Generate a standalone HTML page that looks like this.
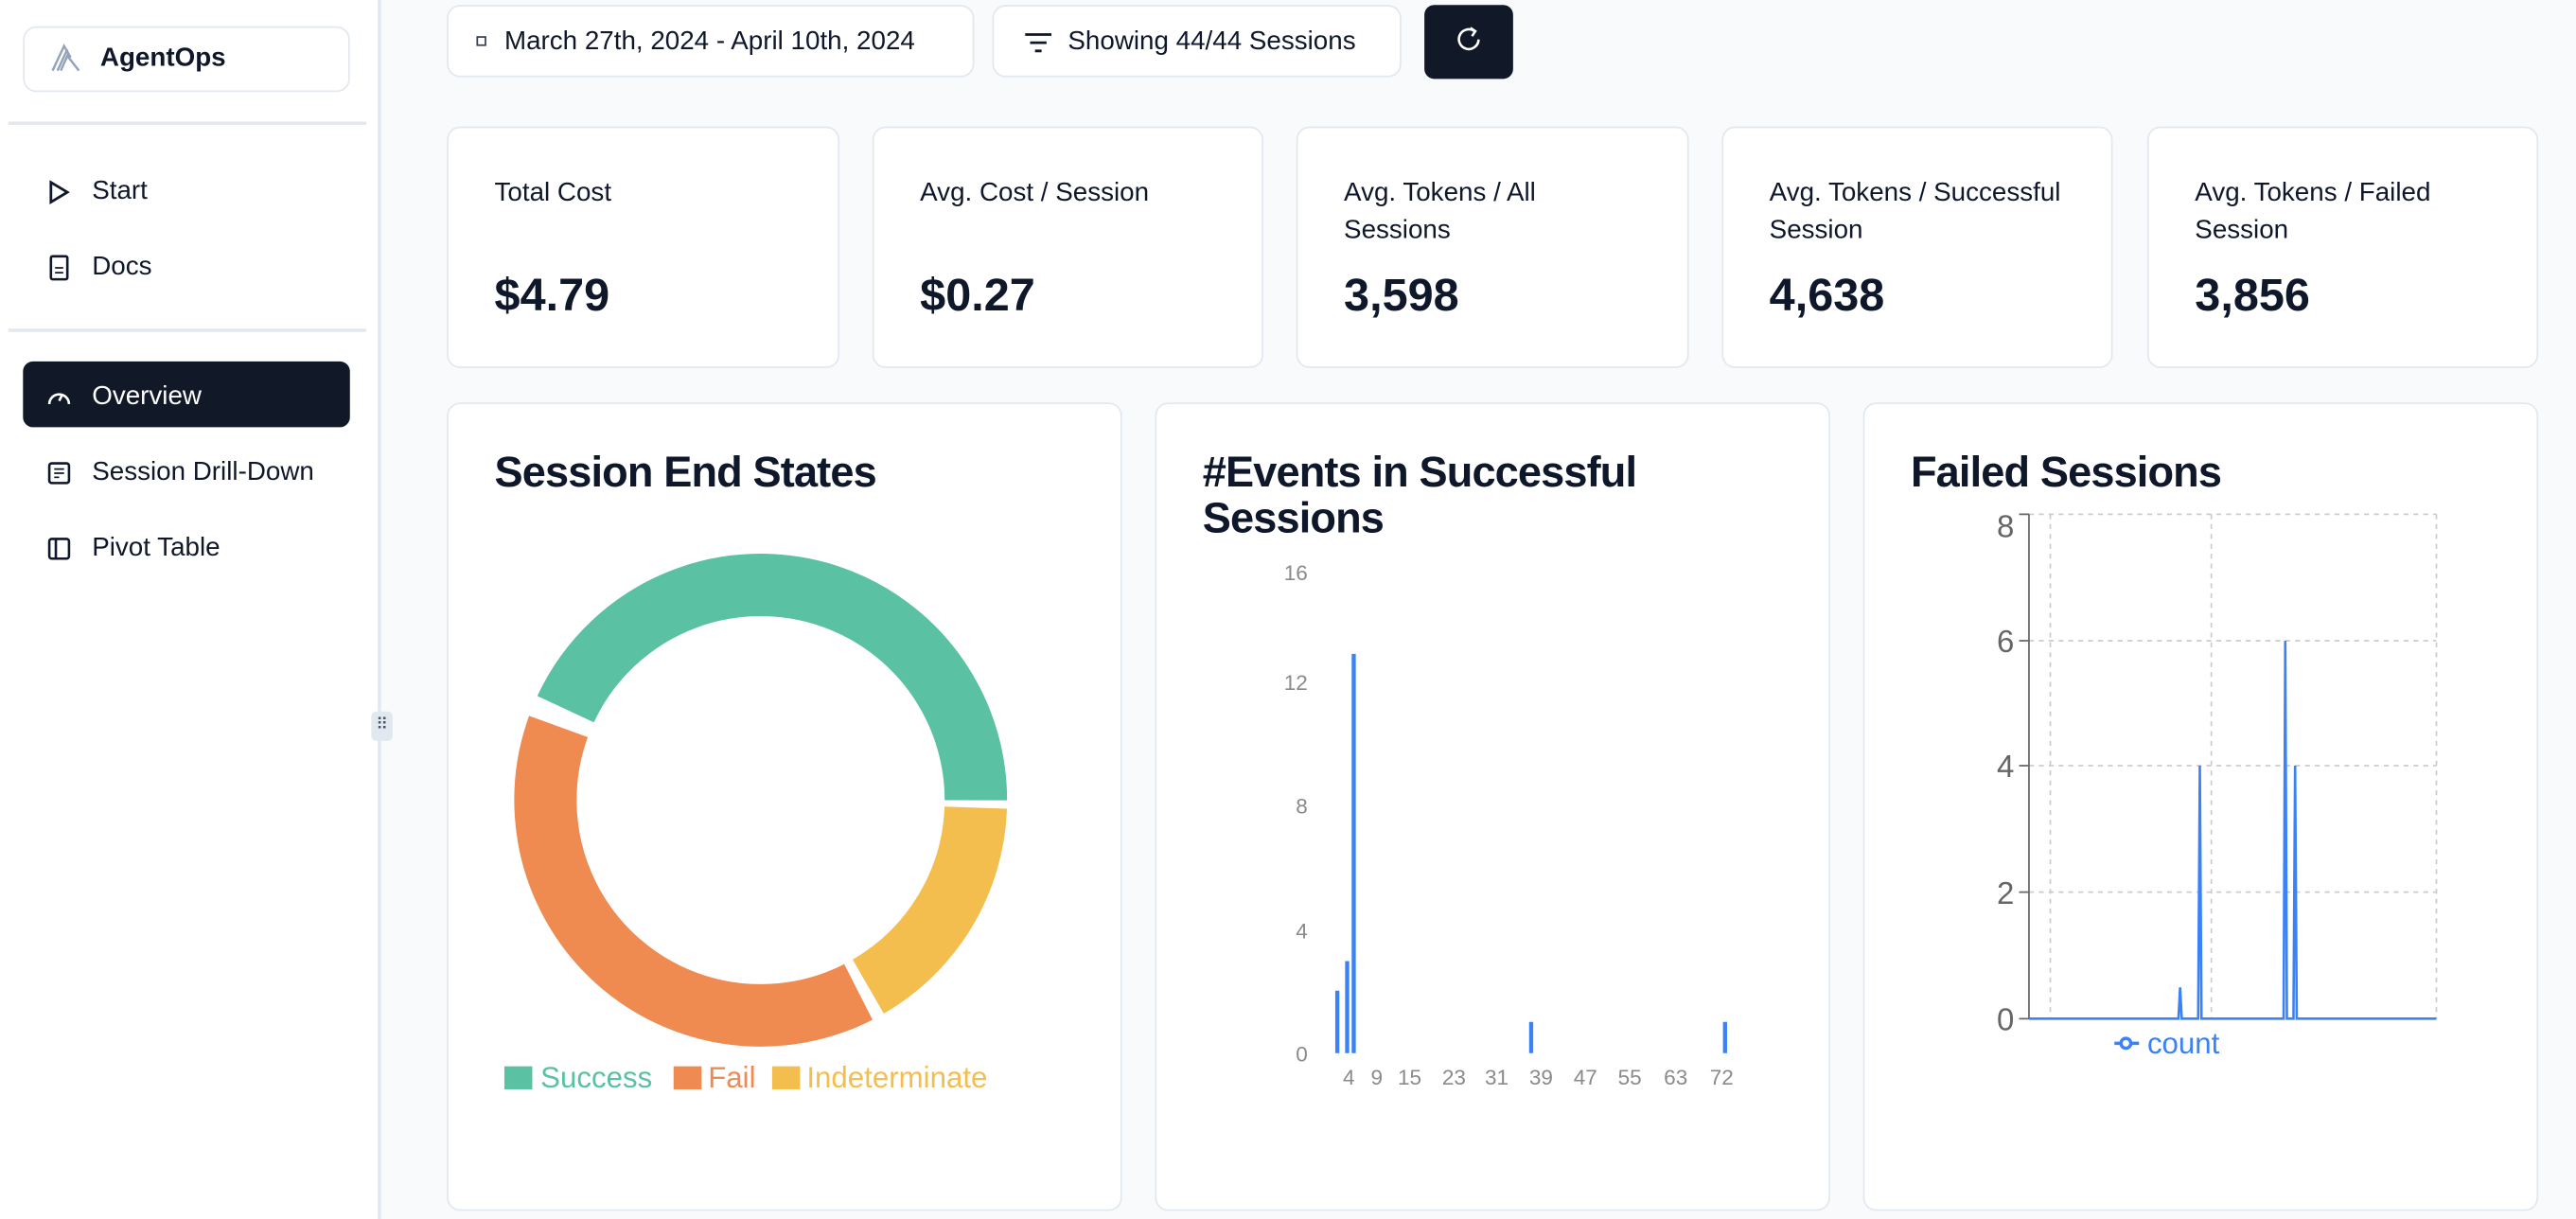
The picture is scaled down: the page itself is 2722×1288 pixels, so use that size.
<!DOCTYPE html>
<html><head><meta charset="utf-8"><style>
*{box-sizing:border-box;margin:0;padding:0}
html,body{width:2722px;height:1288px;overflow:hidden;background:#f8fafc}
#s{position:absolute;left:0;top:0;width:1568px;height:742px;transform:scale(1.736);transform-origin:0 0;font-family:"Liberation Sans",sans-serif;color:#0f172a}
.a{position:absolute}
.card{position:absolute;background:#fff;border:1px solid #e2e8f0;border-radius:8px}
.nav{position:absolute;left:28px;font-size:16px;display:flex;align-items:center;gap:12px}
.lbl{position:absolute;left:28px;top:28px;font-size:16px;line-height:23px}
.val{position:absolute;left:28px;top:86px;font-size:28px;font-weight:bold}
.ttl{position:absolute;left:28px;top:27px;font-size:26px;font-weight:bold;line-height:28px;letter-spacing:-0.5px}
</style></head><body><div id="s">
<div class="a" style="left:0;top:0;width:232px;height:742px;background:#fff;border-right:2px solid #e2e8f0"></div>
<div class="card" style="left:14px;top:16px;width:199px;height:40px"></div>
<svg class="a" style="left:29px;top:25px" width="22" height="20"><path d="M3 18 L10 3 L14 10 M8 18 L12 9 L19 18 M6 18 L12 5" fill="none" stroke="#94a3b8" stroke-width="1.4"/></svg>
<div class="a" style="left:61px;top:27px;font-size:16px;font-weight:bold">AgentOps</div>
<div class="a" style="left:5px;top:74px;width:218px;height:2px;background:#e2e8f0"></div>
<div class="nav" style="top:108px"><svg width="16" height="16"><path d="M3 2 L13 8 L3 14 Z" fill="none" stroke="#0f172a" stroke-width="1.6"/></svg>Start</div>
<div class="nav" style="top:154px"><svg width="16" height="16"><rect x="3" y="1" width="10" height="14" rx="1" fill="none" stroke="#0f172a" stroke-width="1.5"/><path d="M5.5 8h5M5.5 11h5" stroke="#0f172a"/></svg>Docs</div>
<div class="a" style="left:5px;top:200px;width:218px;height:2px;background:#e2e8f0"></div>
<div class="a" style="left:14px;top:220px;width:199px;height:40px;background:#111827;border-radius:6px"></div>
<div class="nav" style="top:233px;color:#fff"><svg width="16" height="16"><path d="M2 12 A6 6 0 1 1 14 12" fill="none" stroke="#fff" stroke-width="1.5"/><path d="M8 10 L10 6" stroke="#fff" stroke-width="1.5"/></svg>Overview</div>
<div class="nav" style="top:279px"><svg width="16" height="16"><rect x="2" y="2" width="12" height="12" rx="1.5" fill="none" stroke="#0f172a" stroke-width="1.5"/><path d="M5 5.5h6M5 8h6M5 10.5h3" stroke="#0f172a"/></svg>Session Drill-Down</div>
<div class="nav" style="top:325px"><svg width="16" height="16"><rect x="2" y="2" width="12" height="12" rx="1.5" fill="none" stroke="#0f172a" stroke-width="1.5"/><path d="M6 2v12" stroke="#0f172a" stroke-width="1.5"/></svg>Pivot Table</div>
<div class="a" style="left:226px;top:433px;width:13px;height:18px;background:#e2e8f0;border-radius:3px;font-size:10px;text-align:center;line-height:18px;color:#475569">⠿</div>

<div class="card" style="left:272px;top:3px;width:321px;height:44px"></div>
<div class="a" style="left:290px;top:22px;width:6px;height:6px;border:1px solid #334155"></div>
<div class="a" style="left:307px;top:17px;font-size:16px">March 27th, 2024 - April 10th, 2024</div>
<div class="card" style="left:604px;top:3px;width:249px;height:44px"></div>
<svg class="a" style="left:623px;top:18px" width="18" height="16"><path d="M1 3h16M4 8h10M7 13h4" stroke="#0f172a" stroke-width="1.6"/></svg>
<div class="a" style="left:650px;top:17px;font-size:16px">Showing 44/44 Sessions</div>
<div class="a" style="left:867px;top:3px;width:54px;height:45px;background:#111827;border-radius:6px"></div>
<svg class="a" style="left:885px;top:15px" width="18" height="18"><path d="M15 9 A6 6 0 1 1 12.5 4" fill="none" stroke="#fff" stroke-width="1.5"/><path d="M10 2 L13 4 L11 7" fill="none" stroke="#fff" stroke-width="1.5"/></svg>

<div class="card" style="left:272px;top:77px;width:239px;height:147px"><div class="lbl">Total Cost</div><div class="val">$4.79</div></div>
<div class="card" style="left:531px;top:77px;width:238px;height:147px"><div class="lbl">Avg. Cost / Session</div><div class="val">$0.27</div></div>
<div class="card" style="left:789px;top:77px;width:239px;height:147px"><div class="lbl">Avg. Tokens / All<br>Sessions</div><div class="val">3,598</div></div>
<div class="card" style="left:1048px;top:77px;width:238px;height:147px"><div class="lbl">Avg. Tokens / Successful<br>Session</div><div class="val">4,638</div></div>
<div class="card" style="left:1307px;top:77px;width:238px;height:147px"><div class="lbl">Avg. Tokens / Failed<br>Session</div><div class="val">3,856</div></div>

<div class="card" style="left:272px;top:245px;width:411px;height:492px"><div class="ttl">Session End States</div></div>
<div class="card" style="left:703px;top:245px;width:411px;height:492px"><div class="ttl">#Events in Successful<br>Sessions</div></div>
<div class="card" style="left:1134px;top:245px;width:411px;height:492px"><div class="ttl">Failed Sessions</div></div>

<svg class="a" style="left:0;top:0" width="1568" height="742" font-family="Liberation Sans, sans-serif">
<g fill="none" stroke-width="38">
<circle cx="463" cy="487" r="131" stroke="#5ac2a2" stroke-dasharray="354.4 1000" transform="rotate(205 463 487)"/>
<circle cx="463" cy="487" r="131" stroke="#f4be4e" stroke-dasharray="132.6 1000" transform="rotate(2 463 487)"/>
<circle cx="463" cy="487" r="131" stroke="#ef8a51" stroke-dasharray="313.2 1000" transform="rotate(63 463 487)"/>
</g>
<rect x="307" y="649" width="17" height="14" fill="#5ac2a2"/><text x="329" y="662" font-size="18" fill="#5ac2a2">Success</text>
<rect x="410" y="649" width="17" height="14" fill="#ef8a51"/><text x="431" y="662" font-size="18" fill="#ef8a51">Fail</text>
<rect x="470" y="649" width="17" height="14" fill="#f4be4e"/><text x="491" y="662" font-size="18" fill="#f4be4e">Indeterminate</text>

<g font-size="13" fill="#8a8a8a" text-anchor="end">
<text x="796" y="353">16</text><text x="796" y="420">12</text><text x="796" y="495">8</text><text x="796" y="571">4</text><text x="796" y="646">0</text></g>
<g font-size="13" fill="#8a8a8a" text-anchor="middle">
<text x="821" y="660">4</text><text x="838" y="660">9</text><text x="858" y="660">15</text><text x="885" y="660">23</text><text x="911" y="660">31</text><text x="938" y="660">39</text><text x="965" y="660">47</text><text x="992" y="660">55</text><text x="1020" y="660">63</text><text x="1048" y="660">72</text></g>
<g stroke="#3b82f6" stroke-width="2.5">
<path d="M814 641V603M820 641V585M824 641V398M932 641V622M1050 641V622"/></g>

<g stroke="#ccc" stroke-dasharray="3 3" fill="none">
<path d="M1235 313H1483M1235 390H1483M1235 466H1483M1235 543H1483M1248 313V620M1346 313V620M1483 313V620"/></g>
<path d="M1235 313V620M1229 313H1235M1229 390H1235M1229 466H1235M1229 543H1235M1229 620H1235" stroke="#666" stroke-width="1"/>
<g font-size="19" fill="#666" text-anchor="end">
<text x="1226" y="327">8</text><text x="1226" y="397">6</text><text x="1226" y="473">4</text><text x="1226" y="550">2</text><text x="1226" y="627">0</text></g>
<path d="M1235 620H1326L1327 601L1328 620H1338L1339 466L1340 620H1390L1391 390L1392 620H1396L1397 466L1398 620H1483" fill="none" stroke="#3b82f6" stroke-width="1.5"/>
<path d="M1287 635H1302" stroke="#3b82f6" stroke-width="2"/><circle cx="1294" cy="635" r="3" fill="#fff" stroke="#3b82f6" stroke-width="2"/>
<text x="1307" y="641" font-size="18" fill="#3b82f6">count</text>
</svg>
</div></body></html>
